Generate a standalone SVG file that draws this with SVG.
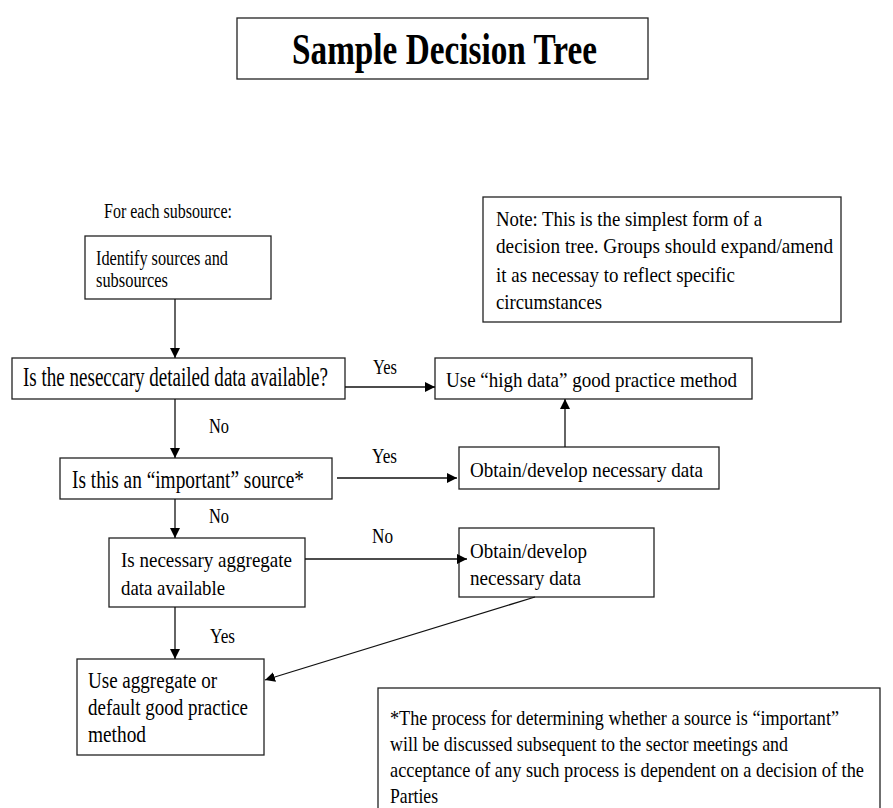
<svg xmlns="http://www.w3.org/2000/svg" width="893" height="808" viewBox="0 0 893 808">
<style>
.box{fill:#fff;stroke:#222;stroke-width:1.3}
.ln{fill:none;stroke:#111;stroke-width:1.3}
text{font-family:"Liberation Serif","Times New Roman",serif;fill:#000}
.t{font-size:22px}
.lab{font-size:21px}
.fn{font-size:21px}
</style>
<defs>
<marker id="ah" viewBox="0 0 10 10" refX="10" refY="5" markerWidth="10" markerHeight="10" markerUnits="userSpaceOnUse" orient="auto">
<path d="M0,0 L10,5 L0,10 Z" fill="#000"/>
</marker>
</defs>
<g id="title">
<rect class="box" x="237" y="18" width="411" height="61"/>
<text x="292" y="64" font-size="44" font-weight="bold" textLength="305" lengthAdjust="spacingAndGlyphs">Sample Decision Tree</text>
</g>
<g id="for-each">
<text x="104" y="218" font-size="20" textLength="128" lengthAdjust="spacingAndGlyphs">For each subsource:</text>
</g>
<g id="identify">
<rect class="box" x="85" y="236" width="186" height="63"/>
<text x="96" y="265" font-size="21" textLength="132" lengthAdjust="spacingAndGlyphs">Identify sources and</text>
<text x="96" y="287" font-size="21" textLength="72" lengthAdjust="spacingAndGlyphs">subsources</text>
</g>
<g id="detailed">
<rect class="box" x="12" y="358" width="333" height="41"/>
<text x="23" y="386" font-size="27" textLength="305" lengthAdjust="spacingAndGlyphs">Is the neseccary detailed data available?</text>
</g>
<g id="high-data">
<rect class="box" x="435" y="358" width="317" height="41"/>
<text class="t" x="446" y="387" textLength="291" lengthAdjust="spacingAndGlyphs">Use “high data” good practice method</text>
</g>
<g id="note">
<rect class="box" x="483" y="197" width="358" height="125"/>
<text x="496" y="226" font-size="21" textLength="266" lengthAdjust="spacingAndGlyphs">Note: This is the simplest form of a</text>
<text x="496" y="253" font-size="21" textLength="337" lengthAdjust="spacingAndGlyphs">decision tree. Groups should expand/amend</text>
<text x="496" y="282" font-size="21" textLength="239" lengthAdjust="spacingAndGlyphs">it as necessay to reflect specific</text>
<text x="496" y="309" font-size="21" textLength="106" lengthAdjust="spacingAndGlyphs">circumstances</text>
</g>
<g id="important">
<rect class="box" x="60" y="458" width="272" height="41"/>
<text x="72" y="488" font-size="25" textLength="232" lengthAdjust="spacingAndGlyphs">Is this an “important”  source*</text>
</g>
<g id="obtain1">
<rect class="box" x="459" y="447" width="260" height="42"/>
<text class="t" x="470" y="477" textLength="233" lengthAdjust="spacingAndGlyphs">Obtain/develop necessary data</text>
</g>
<g id="aggregate">
<rect class="box" x="109" y="538" width="196" height="69"/>
<text class="t" x="121" y="567" textLength="171" lengthAdjust="spacingAndGlyphs">Is necessary aggregate</text>
<text class="t" x="121" y="595" textLength="104" lengthAdjust="spacingAndGlyphs">data available</text>
</g>
<g id="obtain2">
<rect class="box" x="459" y="528" width="195" height="69"/>
<text class="t" x="470" y="558" textLength="117" lengthAdjust="spacingAndGlyphs">Obtain/develop</text>
<text class="t" x="470" y="585" textLength="111" lengthAdjust="spacingAndGlyphs">necessary data</text>
</g>
<g id="use-aggregate">
<rect class="box" x="77" y="659" width="187" height="96"/>
<text x="88" y="688" font-size="23" textLength="129" lengthAdjust="spacingAndGlyphs">Use aggregate or</text>
<text x="88" y="715" font-size="23" textLength="160" lengthAdjust="spacingAndGlyphs">default good practice</text>
<text x="88" y="742" font-size="23" textLength="58" lengthAdjust="spacingAndGlyphs">method</text>
</g>
<g id="footnote">
<rect class="box" x="378" y="688" width="502" height="130"/>
<text class="fn" x="390" y="725" textLength="449" lengthAdjust="spacingAndGlyphs">*The process for determining whether a source is “important”</text>
<text class="fn" x="390" y="751" textLength="398" lengthAdjust="spacingAndGlyphs">will be discussed subsequent to the sector meetings and</text>
<text class="fn" x="390" y="777" textLength="474" lengthAdjust="spacingAndGlyphs">acceptance of any such process is dependent on a decision of the</text>
<text class="fn" x="390" y="803" textLength="48" lengthAdjust="spacingAndGlyphs">Parties</text>
</g>
<g id="connectors">
<line class="ln" x1="175" y1="299" x2="175" y2="358" marker-end="url(#ah)"/>
<line class="ln" x1="345" y1="387" x2="435" y2="387" marker-end="url(#ah)"/>
<line class="ln" x1="175" y1="399" x2="175" y2="458" marker-end="url(#ah)"/>
<line class="ln" x1="337" y1="478" x2="457" y2="478" marker-end="url(#ah)"/>
<line class="ln" x1="565" y1="447" x2="565" y2="399" marker-end="url(#ah)"/>
<line class="ln" x1="175" y1="499" x2="175" y2="538" marker-end="url(#ah)"/>
<line class="ln" x1="305" y1="559" x2="467" y2="559" marker-end="url(#ah)"/>
<line class="ln" x1="535" y1="597" x2="265" y2="680" marker-end="url(#ah)"/>
<line class="ln" x1="175" y1="607" x2="175" y2="659" marker-end="url(#ah)"/>
<text class="lab" x="373" y="374" textLength="24" lengthAdjust="spacingAndGlyphs">Yes</text>
<text class="lab" x="209" y="433" textLength="20" lengthAdjust="spacingAndGlyphs">No</text>
<text class="lab" x="372" y="463" textLength="25" lengthAdjust="spacingAndGlyphs">Yes</text>
<text class="lab" x="209" y="523" textLength="20" lengthAdjust="spacingAndGlyphs">No</text>
<text class="lab" x="372" y="543" textLength="21" lengthAdjust="spacingAndGlyphs">No</text>
<text class="lab" x="210" y="643" textLength="25" lengthAdjust="spacingAndGlyphs">Yes</text>
</g>
</svg>
